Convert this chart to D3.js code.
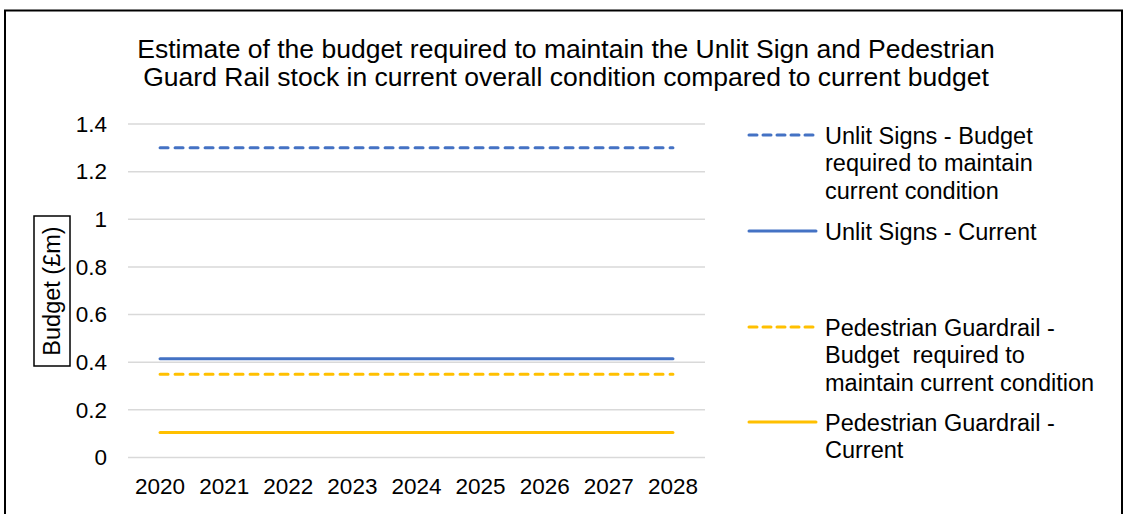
<!DOCTYPE html>
<html>
<head>
<meta charset="utf-8">
<script src="https://cdn.jsdelivr.net/npm/d3@7"></script>
<style>
  body { margin: 0; background: #fff; }
  text { font-family: "Liberation Sans", Arial, sans-serif; fill: #000; }
</style>
</head>
<body>
<svg id="chart" width="1125" height="514"></svg>
<script>

// Data
var years = ["2020", "2021", "2022", "2023", "2024", "2025", "2026", "2027", "2028"];
var unlitRequired = [1.3, 1.3, 1.3, 1.3, 1.3, 1.3, 1.3, 1.3, 1.3];
var unlitCurrent = [0.415, 0.415, 0.415, 0.415, 0.415, 0.415, 0.415, 0.415, 0.415];
var guardRequired = [0.35, 0.35, 0.35, 0.35, 0.35, 0.35, 0.35, 0.35, 0.35];
var guardCurrent = [0.105, 0.105, 0.105, 0.105, 0.105, 0.105, 0.105, 0.105, 0.105];
var yTicks = [0, 0.2, 0.4, 0.6, 0.8, 1, 1.2, 1.4];

var legendLabels = [
  ["Unlit Signs - Budget", "required to maintain", "current condition"],
  ["Unlit Signs - Current"],
  ["Pedestrian Guardrail -", "Budget  required to", "maintain current condition"],
  ["Pedestrian Guardrail -", "Current"]
];

var titleLines = [
  "Estimate of the budget required to maintain the Unlit Sign and Pedestrian",
  "Guard Rail stock in current overall condition compared to current budget"
];

var blue = "#4472C4";
var gold = "#FFC000";

var series = [
  {values: unlitRequired, color: blue, dashed: true},
  {values: unlitCurrent, color: blue, dashed: false},
  {values: guardRequired, color: gold, dashed: true},
  {values: guardCurrent, color: gold, dashed: false}
];

var svg = d3.select("#chart");

// Outer frame
svg.append("rect")
    .attr("x", 5)
    .attr("y", 10.5)
    .attr("width", 1117)
    .attr("height", 520)
    .attr("fill", "none")
    .attr("stroke", "#000")
    .attr("stroke-width", 2);

// Title
svg.append("g")
  .selectAll("text")
  .data(titleLines)
  .enter()
  .append("text")
    .attr("x", 566)
    .attr("y", function(d, i) { return 58 + i * 28; })
    .style("text-anchor", "middle")
    .style("font-size", "26.5px")
    .text(function(d) { return d; });

// Scales
var xScale = d3.scaleBand()
                .domain(years)
                .range([128, 705])
                .padding(0);

var yScale = d3.scaleLinear()
                .domain([0, 1.4])
                .range([457.5, 124]);

// Gridlines
svg.append("g")
  .selectAll("line")
  .data(yTicks)
  .enter()
  .append("line")
    .attr("x1", 128)
    .attr("x2", 705)
    .attr("y1", function(d) { return yScale(d); })
    .attr("y2", function(d) { return yScale(d); })
    .attr("stroke", "#d9d9d9")
    .attr("stroke-width", 1.5);

// Y axis (labels only)
var yAxis = d3.axisLeft(yScale)
              .tickValues(yTicks)
              .tickSize(0)
              .tickPadding(0)
              .tickFormat(function(d) { return d3.format("")(+d.toFixed(1)); });

var yg = svg.append("g")
          .attr("transform", "translate(107,0)")
          .call(yAxis);
yg.select(".domain").remove();
yg.selectAll("text")
    .style("font-size", "22.5px")
    .attr("fill", "#000");

// X axis (labels only)
var xAxis = d3.axisBottom(xScale)
              .tickSize(0)
              .tickPadding(0);

var xg = svg.append("g")
          .attr("transform", "translate(0,478)")
          .call(xAxis);
xg.select(".domain").remove();
xg.selectAll("text")
    .style("font-size", "22.5px")
    .attr("fill", "#000");

// Y axis title with box
var yTitle = svg.append("g")
                .attr("transform", "translate(52,291) rotate(-90)");
yTitle.append("rect")
    .attr("x", -75)
    .attr("y", -18)
    .attr("width", 150)
    .attr("height", 36)
    .attr("fill", "#fff")
    .attr("stroke", "#000")
    .attr("stroke-width", 1.5);
yTitle.append("text")
    .attr("x", 0)
    .attr("y", 8)
    .style("text-anchor", "middle")
    .style("font-size", "23.5px")
    .text("Budget (£m)");

// Lines
var line = d3.line()
              .x(function(d, i) { return xScale(years[i]) + xScale.bandwidth() / 2; })
              .y(function(d) { return yScale(d); });

svg.append("g")
  .selectAll("path")
  .data(series)
  .enter()
  .append("path")
    .attr("d", function(d) { return line(d.values); })
    .attr("fill", "none")
    .attr("stroke", function(d) { return d.color; })
    .attr("stroke-width", 3)
    .attr("stroke-linecap", "round")
    .attr("stroke-dasharray", function(d) { return d.dashed ? "8,7" : null; });

// Legend
var legendY = [135, 231, 327, 422];

var legend = svg.append("g")
                .attr("class", "legend");

var items = legend.selectAll("g")
                  .data(series)
                  .enter()
                  .append("g")
                    .attr("transform", function(d, i) { return "translate(0," + legendY[i] + ")"; });

items.append("line")
    .attr("x1", 749)
    .attr("x2", 816)
    .attr("y1", 0)
    .attr("y2", 0)
    .attr("stroke", function(d) { return d.color; })
    .attr("stroke-width", 3)
    .attr("stroke-linecap", "round")
    .attr("stroke-dasharray", function(d) { return d.dashed ? "8,6" : null; });

items.append("text")
    .attr("x", 825)
    .attr("y", 8.5)
    .style("font-size", "23.5px")
    .style("white-space", "pre")
    .attr("xml:space", "preserve")
    .selectAll("tspan")
    .data(function(d, i) { return legendLabels[i]; })
    .enter()
    .append("tspan")
      .attr("x", 825)
      .attr("dy", function(d, j) { return j === 0 ? 0 : 27.5; })
      .text(function(d) { return d; });

</script>
</body>
</html>
